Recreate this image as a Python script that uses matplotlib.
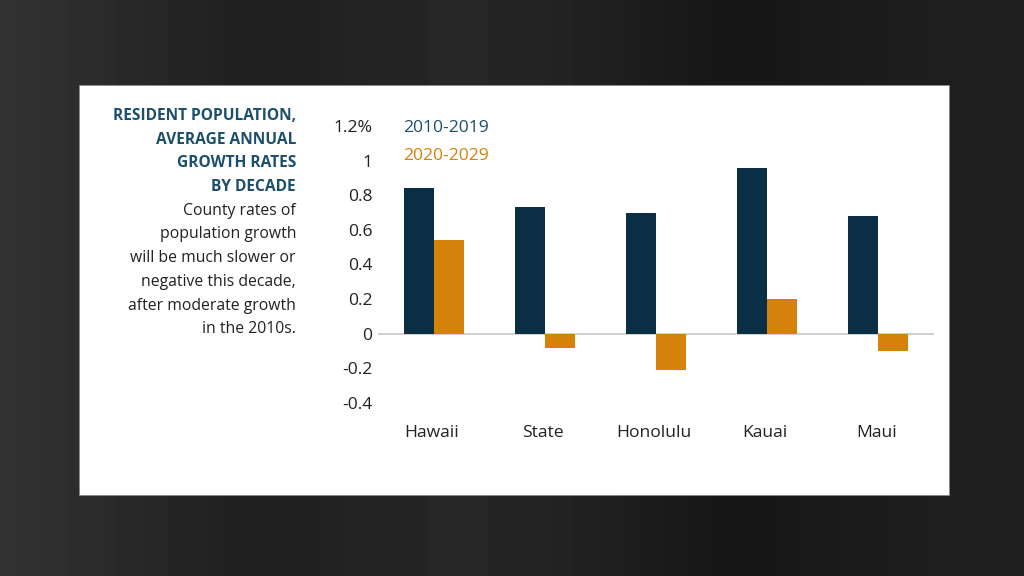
import matplotlib.pyplot as plt
import numpy as np
from matplotlib.patches import Rectangle

# datos del grafico
categorias = ["Hawaii", "State", "Honolulu", "Kauai", "Maui"]
tasa_2010s = [0.84, 0.73, 0.70, 0.96, 0.68]
tasa_2020s = [0.54, -0.08, -0.21, 0.20, -0.10]
serie_nombres = ["2010-2019", "2020-2029"]
y_ticks = [-0.4, -0.2, 0, 0.2, 0.4, 0.6, 0.8, 1, 1.2]
y_labels = ["-0.4", "-0.2", "0", "0.2", "0.4", "0.6", "0.8", "1", "1.2%"]

titulo = ["RESIDENT POPULATION,", "AVERAGE ANNUAL", "GROWTH RATES", "BY DECADE"]
cuerpo = ["County rates of", "population growth", "will be much slower or",
          "negative this decade,", "after moderate growth", "in the 2010s."]

NAVY = "#0a2f45"
ORANGE = "#d4820a"
TEAL = "#1b4f6b"

plt.rcParams['font.family'] = ['Open Sans', 'DejaVu Sans']

W, H = 1024, 576
fig = plt.figure(figsize=(W/100, H/100), dpi=100)

# fondo oscuro con degradado
bg = fig.add_axes([0, 0, 1, 1])
xs = np.linspace(0, 1, 256)
grad = 0.20 - 0.08*np.clip(xs/0.25, 0, 1) + 0.03*np.exp(-((xs-0.45)/0.15)**2)
grad = grad - 0.03*np.exp(-((xs-0.72)/0.12)**2)
bg.imshow(np.tile(grad, (2, 1)), cmap="gray", vmin=0, vmax=1, aspect="auto",
          extent=[0, 1, 0, 1])
bg.set_xlim(0, 1)
bg.set_ylim(0, 1)
bg.axis("off")
bg.add_patch(Rectangle((79/W, 1 - 495/H), 870/W, 410/H, facecolor="white",
                       edgecolor="#888888", linewidth=0.6))

# texto de la izquierda
y0 = 116
for i, t in enumerate(titulo):
    fig.text(296/W, 1 - (y0 + i*23.7)/H, t, ha="right", va="center",
             fontsize=11.2, fontweight="bold", color=TEAL)
for i, t in enumerate(cuerpo):
    fig.text(296/W, 1 - (y0 + (i+4)*23.7)/H, t, ha="right", va="center",
             fontsize=11.3, color="#222222")

# grafico de barras
ax = fig.add_axes([378/W, 1 - 403/H, (934-378)/W, (403-126)/H])
ax.set_facecolor("none")
x = np.arange(len(categorias))
w = 0.27
ax.bar(x, tasa_2010s, width=-w, align="edge", color=NAVY)
ax.bar(x, tasa_2020s, width=w, align="edge", color=ORANGE)
ax.axhline(0, color="#c8c8c8", linewidth=1.2, zorder=0)

ax.set_xlim(-0.5, len(categorias) - 0.5)
ax.set_ylim(-0.4, 1.2)
ax.set_yticks(y_ticks)
ax.set_yticklabels(y_labels)
ax.set_xticks(x - 0.02)
ax.set_xticklabels(categorias)
ax.tick_params(axis="both", length=0, labelsize=12.6, colors="#222222")
ax.tick_params(axis="y", pad=4)
ax.tick_params(axis="x", pad=16)
for s in ax.spines.values():
    s.set_visible(False)

# leyenda como texto
fig.text(403/W, 1 - 128/H, serie_nombres[0], ha="left", va="center",
         fontsize=12.6, color=TEAL)
fig.text(403/W, 1 - 156/H, serie_nombres[1], ha="left", va="center",
         fontsize=12.6, color=ORANGE)

fig.savefig("out.png", dpi=100)
